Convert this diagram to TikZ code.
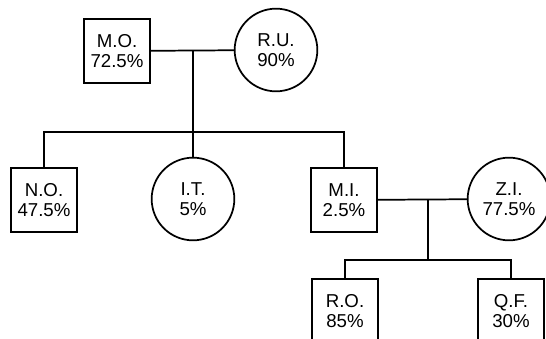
\documentclass[tikz,border=0pt]{standalone}
\usepackage{fontspec}
\setmainfont{Liberation Sans}
\usepackage{tikz}
\usepackage{xcolor}
\tikzset{
    square-box/.style = {draw=black, fill=white, line width=1.3pt, rectangle, minimum width=49.5pt, minimum height=47.5pt, inner sep=1pt, align=center, font=\fontsize{14}{15}\selectfont},
    round-node/.style = {draw=black, fill=white, line width=1.3pt, circle, minimum size=62pt, inner sep=1pt, align=center, font=\fontsize{14}{15}\selectfont},
    link/.style = {draw=black, line width=1.3pt},
}

\begin{document}
\begin{tikzpicture}[x=0.75pt, y=-0.75pt]
\useasboundingbox (0,0) rectangle (546,339);
\clip (0,0) rectangle (546,339);
% top couple
\node [square-box] (mo) at (117,51) {M.O.\\72.5\%};
\node [round-node] (ru) at (276,50) {R.U.\\90\%};
% second row
\node [square-box] (no) at (44,200) {N.O.\\47.5\%};
\node [round-node] (it) at (193,199) {I.T.\\5\%};
\node [square-box] (mi) at (344,200) {M.I.\\2.5\%};
\node [round-node] (zi) at (509,199) {Z.I.\\77.5\%};
% third row
\node [square-box] (ro) at (345,311) {R.O.\\85\%};
\node [square-box] (qf) at (511,311) {Q.F.\\30\%};
\coordinate (j1) at (193,51);
\coordinate (j2) at (193,132);
\coordinate (j3) at (428,200);
\coordinate (j4) at (428,260);
\draw [link] (mo) -- (ru);
\draw [link] (j1) -- (it);
\draw [link] (no.north) |- (j2) -| (mi.north);
\draw [link] (mi) -- (zi);
\draw [link] (j3) -- (j4);
\draw [link] (ro.north) |- (j4) -| (qf.north);
\end{tikzpicture}
\end{document}
